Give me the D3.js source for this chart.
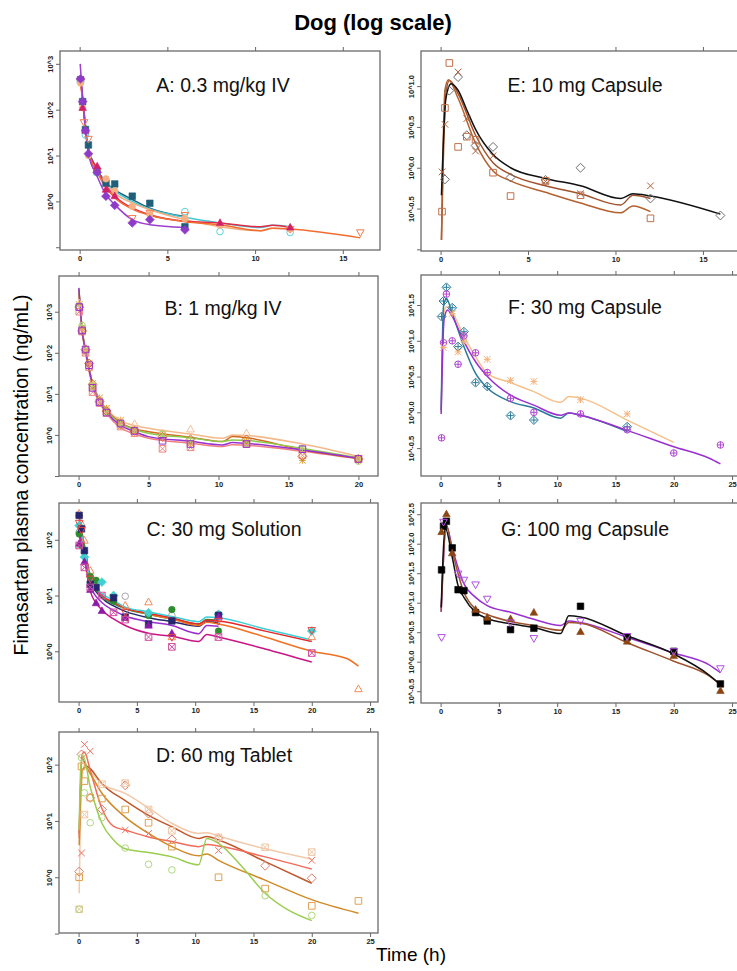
<!DOCTYPE html>
<html>
<head>
<meta charset="utf-8">
<script src="https://cdn.jsdelivr.net/npm/d3@7"></script>
<style>
  body { margin: 0; background: #fff; }
  svg { display: block; }
  text { font-family: "Liberation Sans", Arial, Helvetica, sans-serif; }
</style>
</head>
<body>
<svg id="chart" width="737" height="971"></svg>
<script>
// ---- observed concentrations, [time h, ng/mL] ----
// A: 0.3 mg/kg IV
var aSq      = [[0.05,450],[0.17,150],[0.33,37],[0.5,17],[1,4.5],[1.5,2.5],[2,2.4],[3,1.3],[4,0.91],[6,0.28]]
var aCirc    = [[0.05,420],[0.33,28],[1,4.2],[6,0.6],[8,0.22],[12,0.21]]
var aTriDown = [[0.05,400],[0.25,53],[0.5,23],[1,4.5],[3,0.43],[4,0.56],[6,0.5],[12,0.25],[16,0.21]]
var aPeach   = [[0.05,380],[0.17,110],[0.5,10],[1.5,3.1],[2,1.7],[3,0.78],[4,0.52],[6,0.42],[8,0.3],[12,0.25]]
var aTri     = [[0.17,110],[0.33,35],[1,5.8],[1.5,1.8],[2,1.3],[8,0.34],[12,0.27]]
var aDia     = [[0.05,470],[0.17,150],[0.33,35],[0.5,11],[1,4.3],[1.5,1.3],[2,0.82],[3,0.34],[4,0.4],[6,0.24]]
// A model curves
var aLineTeal   = [[0.05,500],[0.25,90],[0.5,15],[1,5],[1.5,2.6],[2,1.8],[3,1.1],[4,0.71],[6,0.47]]
var aLineCyan   = [[0.05,480],[0.25,85],[0.5,14],[1,4.8],[1.5,2.5],[2,1.7],[3,1.0],[4,0.68],[6,0.45],[8,0.34],[10.3,0.27],[11,0.3],[12,0.28]]
var aLinePeach  = [[0.05,450],[0.25,80],[0.5,13],[1,4.5],[1.5,2.3],[2,1.5],[3,0.92],[4,0.66],[6,0.4],[8,0.28],[10.3,0.23],[11,0.26],[12,0.25]]
var aLineRed    = [[0.05,450],[0.25,80],[0.5,13],[1,5.2],[1.5,2.2],[2,1.3],[3,0.72],[4,0.51],[6,0.37],[8,0.34],[10.3,0.28],[11,0.3],[12,0.27]]
var aLineOrange = [[0.05,420],[0.25,75],[0.5,12],[1,4.3],[1.5,2],[2,1.2],[3,0.68],[4,0.5],[6,0.36],[8,0.31],[10.3,0.23],[11,0.26],[12,0.25],[16,0.16]]
var aLinePurple = [[0.03,1000],[0.25,80],[0.5,11],[1,3.5],[1.5,1.4],[2,0.85],[3,0.4],[4,0.31],[6,0.27]]

// B: 1 mg/kg IV
var bStar   = [[0.05,1500],[0.25,380],[0.5,120],[0.75,55],[1,18],[1.5,8],[2,4.5],[3,2.3],[4,1.3],[6,1.0],[8,0.62],[12,0.7],[16,0.24],[20,0.26]]
var bTri    = [[0.05,1600],[0.25,400],[0.5,130],[1,16],[1.5,7],[2,4],[3,2.1],[4,1.85],[6,1.1],[8,1.37],[12,1.1],[16,0.45],[20,0.27]]
var bGreen  = [[0.05,1400],[0.25,460],[0.5,110],[1,15],[1.5,6.5],[2,3.7],[3,1.9],[4,1.3],[6,1.05],[8,0.7],[12,0.62],[16,0.45],[20,0.23]]
var bSalmon = [[0.05,1000],[0.25,330],[0.5,100],[0.75,45],[1,11],[1.5,6],[2,3.4],[3,1.6],[4,1.1],[6,0.46],[8,0.5],[12,0.6],[16,0.32],[20,0.26]]
var bDia    = [[0.05,1300],[0.25,340],[0.5,120],[0.75,55],[1,17],[1.5,6.5],[2,3.8],[3,1.8],[4,1.25],[6,0.9],[8,0.78],[12,0.78],[16,0.3],[20,0.26]]
var bSq     = [[0.05,1300],[0.25,350],[0.5,120],[0.75,50],[1,14],[1.5,6.2],[2,3.5],[3,1.9],[4,1.25],[6,0.72],[8,0.6],[12,0.6],[16,0.45],[20,0.26]]
var bLinePeach  = [[0.02,3400],[0.25,380],[0.5,120],[1,19],[1.5,7.5],[2,4.3],[3,2.2],[4,1.7],[5,1.45],[8,1.05],[10.3,0.83],[11,1.0],[12,0.97],[16,0.6],[20,0.3]]
var bLineSalmon = [[0.02,3000],[0.25,330],[0.5,100],[1,15],[1.5,6],[2,3.3],[3,1.5],[4,1.05],[5,0.83],[8,0.63],[10.3,0.52],[11,0.58],[12,0.56],[16,0.4],[20,0.26]]
var bLineOrange = [[0.02,3500],[0.25,370],[0.5,115],[1,18],[1.5,7],[2,4],[3,2],[4,1.4],[5,1.2],[8,0.88],[10.3,0.69],[11,0.91],[12,0.85],[16,0.43],[20,0.27]]
var bLineGreen  = [[0.02,3500],[0.25,380],[0.5,115],[1,18],[1.5,7],[2,3.9],[3,1.9],[4,1.35],[5,1.1],[8,0.85],[10.3,0.69],[11,0.75],[12,0.73],[16,0.47],[20,0.28]]
var bLinePurple = [[0.02,3800],[0.25,360],[0.5,110],[1,17],[1.5,6.5],[2,3.6],[3,1.7],[4,1.2],[5,0.91],[8,0.7],[10.3,0.57],[11,0.65],[12,0.62],[16,0.43],[20,0.27]]

// C: 30 mg Solution
var cTri     = [[0.05,295],[0.25,193],[0.5,97],[1,28],[4,6.6],[6,7.6],[8,1.8],[20,1.8],[24,0.21]]
var cCirc    = [[0.05,137],[0.5,60],[4,9.7],[8,4.4],[12,4.6]]
var cGreen   = [[0.05,127],[0.25,79],[1,22],[1.5,18.7],[3,7.9],[6,4.4],[8,5.6],[12,2.3]]
var cCyan    = [[0.05,180],[0.5,49],[2,17.4],[3,10],[6,4.9],[12,4.6],[20,2.3]]
var cNavy    = [[0.05,274],[0.25,157],[0.5,64],[1,16],[1.5,14],[3,9.1],[4,4.1],[6,3.1],[8,3.5],[12,4.4]]
var cPurple  = [[0.05,85],[0.5,40],[1,12.7],[1.5,7.3],[2,5.3],[4,4.0],[6,2.9],[8,2.1],[12,4.2]]
var cMagenta = [[0.05,79],[0.5,32],[1,14],[2,10],[3,5.0],[4,3.7],[6,1.8],[8,1.2],[12,1.8],[20,0.93]]
var cRed     = [[0.05,200],[0.25,150],[1,20],[4,5],[8,1.8],[12,3.5],[20,2.4]]
var cLineNavy    = [[0.05,260],[0.5,75],[1,19],[2,9],[3,6.5],[4,5.2],[6,4.0],[8,3.4],[10.3,2.8],[11,3.4],[12,3.3]]
var cLineGreen   = [[0.05,180],[0.5,70],[1,20],[2,9.5],[3,7.1],[4,5.8],[6,4.6],[8,3.8],[10.3,3.1],[11,3.7],[12,3.6]]
var cLinePurple  = [[0.05,150],[0.5,55],[1,15],[2,7.5],[3,5.4],[4,4.3],[6,3.4],[8,2.9],[10.3,2.07],[11,2.9],[12,2.8]]
var cLineMagenta = [[0.05,120],[0.5,45],[1,12],[2,5.5],[3,3.8],[4,2.9],[6,2.1],[8,1.86],[10.3,1.5],[11,2.0],[12,1.8],[16,1.1],[20,0.64]]
var cLineOrange  = [[0.05,240],[0.5,80],[1,22],[2,10],[3,7.5],[4,6.0],[6,4.6],[8,3.8],[10.3,2.9],[11,3.3],[12,3.1],[16,1.8],[20,1.0],[23,0.74],[24,0.54]]
var cLineRed     = [[0.05,220],[0.5,75],[1,21],[2,10],[3,7.6],[4,6.0],[6,4.8],[8,4.0],[10.3,3.1],[11,3.6],[12,3.5],[16,2.3],[20,1.5]]
var cLineCyan    = [[0.05,200],[0.5,70],[1,20],[2,10.8],[3,8.2],[4,6.2],[6,5.1],[8,4.2],[10.3,3.4],[11,4.1],[12,4.0],[16,2.5],[20,1.6]]

// D: 60 mg Tablet
var dX    = [[0.25,2.7],[0.5,229],[1,174],[4,6.9],[6,6.0],[12,3.0],[20,2.0]]
var dDia  = [[0.05,1.26],[0.25,152],[1,25.7],[2,16],[4,43],[6,13.5],[8,4.7],[12,4.9],[16,1.6],[20,0.96]]
var dSqX  = [[0.05,0.27],[0.5,13],[2,45],[4,47],[6,16],[8,6.7],[12,5.1],[16,3.4],[20,2.8]]
var dSq   = [[0.05,1.0],[0.25,93],[0.5,51],[1,26],[2,25],[4,16],[6,9.3],[8,3.5],[12,1.0],[16,0.63],[20,0.31],[24,0.38]]
var dCirc = [[0.05,0.27],[0.25,133],[0.5,31.6],[1,9.3],[2,11.5],[4,3.3],[6,1.7],[8,1.35],[16,0.47],[20,0.21]]
var dLinePeach  = [[0.05,0.52],[0.25,40],[0.5,100],[1,75],[2,46],[4,31],[6,17],[8,9.1],[10.3,6.0],[11,6.2],[12,5.4],[16,3.2],[20,2.1]]
var dLineBrown  = [[0.05,6],[0.3,130],[0.6,100],[1,85],[2,46],[4,23],[6,12.6],[8,7.9],[10.3,4.9],[11,5.3],[12,4.6],[16,1.9],[20,0.78]]
var dLineSalmon = [[0.05,5],[0.3,150],[0.5,167],[1,79],[2,16.6],[3,8],[4,6.9],[6,5.2],[8,4.3],[10.3,3.5],[11,3.8],[12,3.6],[16,2.3],[20,1.4]]
var dLineGold   = [[0.05,3.7],[0.3,80],[0.6,91],[1,69],[2,31],[4,11.7],[6,6.0],[8,3.5],[10.3,2.4],[11,2.6],[12,2.0],[16,0.89],[20,0.4],[24,0.23]]
var dLineGreen  = [[0.05,6.9],[0.2,100],[0.4,138],[1,40],[2,9.1],[3,4.6],[4,3.2],[6,2.75],[8,2.3],[10.3,1.66],[11,4.9],[12,4.0],[14,1.55],[16,0.52],[18,0.26],[20,0.17]]

// E: 10 mg Capsule
var eDia = [[0.25,0.72],[0.5,8.8],[1,12.9],[1.5,2.5],[2,1.87],[3,1.8],[4,0.76],[6,0.71],[8,1.0],[12,0.42],[16,0.26]]
var eX   = [[0.083,0.89],[0.25,3.4],[1,14.9],[1.5,4],[2,1.6],[3,1.4],[6,0.68],[8,0.48],[12,0.6]]
var eSq  = [[0.083,0.29],[0.25,5.4],[0.5,19.2],[1,1.8],[1.5,2.4],[2,2.2],[3,0.87],[4,0.45],[6,0.69],[8,0.46],[12,0.24]]
var eLineBlack  = [[0.05,0.46],[0.3,7],[0.6,10.7],[1,8.9],[1.5,5.1],[2,2.95],[3,1.45],[4,1.0],[6,0.74],[8,0.6],[10.3,0.42],[11,0.48],[12,0.45],[16,0.27]]
var eLineBrown1 = [[0.05,0.13],[0.3,8],[0.5,11.7],[1,8.1],[2,2.5],[3,1.15],[4,0.83],[6,0.6],[8,0.48],[10.3,0.35],[11,0.46],[12,0.42]]
var eLineBrown2 = [[0.05,0.13],[0.25,9],[0.45,12],[1,7.1],[2,2.0],[3,0.91],[4,0.69],[6,0.5],[8,0.37],[10.3,0.28],[11,0.34],[12,0.29]]

// F: 30 mg Capsule
var fDia  = [[0.083,21.8],[0.25,36],[0.5,56],[1,29],[1.5,8.3],[2,13.4],[3,2.6],[4,2.3],[6,0.9],[8,0.78],[16,0.63]]
var fCirc = [[0.083,0.44],[0.25,9.4],[0.5,45],[1,10],[1.5,4.7],[2,11.7],[3,6.8],[4,3.6],[6,1.57],[8,1.0],[12,0.95],[16,0.57],[20,0.27],[24,0.35]]
var fStar = [[0.25,8.1],[1,24],[1.5,7.0],[2,9.7],[4,5.5],[6,2.8],[8,2.7],[12,1.5],[16,0.95]]
var fLinePeach  = [[0.05,1.0],[0.3,25],[0.5,30],[1,25],[2,11.5],[3,6],[4,3.5],[6,2.6],[8,1.95],[10.3,1.38],[11,1.66],[12,1.58],[16,0.78],[20,0.38]]
var fLineTeal   = [[0.05,1.07],[0.25,30],[0.5,39],[1,24],[2,8.3],[3,3.5],[4,2.2],[6,1.41],[8,1.15],[10.3,0.83],[11,0.98],[12,0.91],[16,0.54]]
var fLinePurple = [[0.05,0.95],[0.3,20],[0.6,27],[1,22],[2,9.8],[3,5.1],[4,3.2],[6,1.74],[8,1.26],[10.3,0.91],[11,0.98],[12,0.91],[16,0.56],[20,0.33],[23,0.23],[24,0.19]]

// G: 100 mg Capsule
var gSq      = [[0.083,36],[0.25,198],[0.5,240],[1,85],[1.5,16.6],[2,16],[3,6.8],[4,4.9],[6,3.5],[8,3.7],[12,8.7],[16,2.6],[20,1.5],[24,0.42]]
var gTri     = [[0.083,158],[0.5,316],[1,69],[3,7.6],[4,5.6],[6,5.3],[8,6.8],[12,3.2],[16,2.2],[20,1.25],[24,0.32]]
var gTriDown = [[0.083,2.6],[0.25,234],[1.5,31],[2,24.4],[3,20.3],[4,11.6],[6,4.6],[8,2.5],[12,4.9],[16,2.7],[20,1.5],[24,0.77]]
var gLinePurple = [[0.05,7],[0.5,204],[1,85],[2,21],[3,12.3],[4,8.9],[6,6.9],[8,5.25],[10.3,4.1],[11,4.9],[12,4.6],[16,2.6],[20,1.4],[23,0.89],[24,0.65]]
var gLineBrown  = [[0.05,7],[0.5,204],[1,76],[2,15],[3,7.8],[4,6.3],[6,4.8],[8,4.1],[10.3,3.4],[11,4.6],[12,4.5],[16,2.1],[20,1.02],[23,0.58],[24,0.41]]
var gLineBlack  = [[0.05,8.3],[0.4,182],[1,59],[1.5,19.5],[2,12.3],[3,6.9],[4,5.4],[6,4.4],[8,3.8],[10.3,3.0],[11,6.0],[12,5.75],[16,2.75],[20,1.35],[23,0.6],[24,0.41]]

// ---- panel layout ----
var panels = [
  {title: 'A: 0.3 mg/kg IV', box: [60, 51, 320, 199], xlim: [-1.12, 17.12], ylim: [-1.06, 3.28], xt: [0,5,10,15], yt: [-1,0,1,2,3], dec: 0, tdx: 163, tdy: 41,
   lines: [[aLineTeal,'#1f5f7a'],[aLineCyan,'#45c8d2'],[aLinePeach,'#f3ad7e'],[aLineRed,'#e02a4a'],[aLineOrange,'#f26b2f'],[aLinePurple,'#9a3fd0']],
   pts: [[aSq,'squareF','#1f5f7a'],[aCirc,'circle','#5ad2dc'],[aTriDown,'triDown','#f47a50'],[aPeach,'circleF','#f5b183'],[aTri,'triF','#d1206a'],[aDia,'diamondF','#8e3bc8']]},
  {title: 'B: 1 mg/kg IV', box: [59, 276, 319, 200], xlim: [-1.4, 21.4], ylim: [-1.0, 3.87], xt: [0,5,10,15,20], yt: [-1,0,1,2,3], dec: 0, tdx: 164, tdy: 39,
   lines: [[bLinePeach,'#f5b88a'],[bLineSalmon,'#f08080'],[bLineOrange,'#d2691e'],[bLineGreen,'#8cc84b'],[bLinePurple,'#9a30d0']],
   pts: [[bStar,'star','#e0a030'],[bTri,'tri','#f5c09a'],[bGreen,'circlePlus','#a8d070'],[bSalmon,'squareX','#f08a80'],[bDia,'diamond','#d0703a'],[bSq,'square','#9932cc']]},
  {title: 'C: 30 mg Solution', box: [59, 503, 319, 199], xlim: [-1.68, 25.68], ylim: [-0.91, 2.66], xt: [0,5,10,15,20,25], yt: [0,1,2], dec: 0, tdx: 165, tdy: 33,
   lines: [[cLineNavy,'#26266e'],[cLineGreen,'#2e8b2e'],[cLinePurple,'#9b30d0'],[cLineMagenta,'#c71585'],[cLineOrange,'#f07020'],[cLineRed,'#e8262c'],[cLineCyan,'#3dcfd6']],
   pts: [[cTri,'tri','#f58a5a'],[cCirc,'circle','#a8a8a8'],[cGreen,'circleF','#2e8b2e'],[cCyan,'diamondF','#40d0d0'],[cNavy,'squareF','#26266e'],[cPurple,'triF','#8b1aa8'],[cMagenta,'squareX','#d050a0'],[cRed,'triDown','#e84848']]},
  {title: 'D: 60 mg Tablet', box: [59, 732, 319, 201], xlim: [-1.68, 25.68], ylim: [-0.99, 2.58], xt: [0,5,10,15,20,25], yt: [-1,0,1,2], dec: 0, tdx: 165, tdy: 30,
   lines: [[dLinePeach,'#f2c9a9'],[dLineBrown,'#c0582c'],[dLineSalmon,'#f26b5b'],[dLineGold,'#d08a28'],[dLineGreen,'#9acd50']],
   pts: [[dX,'x','#f07060'],[dDia,'diamond','#d9806a'],[dSqX,'squareX','#f0c8a8'],[dSq,'square','#e0a050'],[dCirc,'circle','#b0d880']]},
  {title: 'E: 10 mg Capsule', box: [421, 51, 319, 200], xlim: [-1.12, 17.12], ylim: [-1.02, 1.43], xt: [0,5,10,15], yt: [-1,-0.5,0,0.5,1], dec: 1, tdx: 164, tdy: 41,
   lines: [[eLineBrown1,'#a0522d'],[eLineBrown2,'#b5602f'],[eLineBlack,'#111111']],
   pts: [[eDia,'diamond','#6e6e6e'],[eX,'x','#b0603a'],[eSq,'square','#c0704a']]},
  {title: 'F: 30 mg Capsule', box: [421, 275, 319, 201], xlim: [-1.68, 25.68], ylim: [-0.89, 1.92], xt: [0,5,10,15,20,25], yt: [-0.5,0,0.5,1,1.5], dec: 1, tdx: 164, tdy: 39,
   lines: [[fLinePeach,'#f5c08a'],[fLineTeal,'#2a7a9a'],[fLinePurple,'#9a30d0']],
   pts: [[fDia,'diamondPlus','#2a7a9a'],[fCirc,'circlePlus','#b048d0'],[fStar,'star','#f5b07a']]},
  {title: 'G: 100 mg Capsule', box: [421, 503, 319, 200], xlim: [-1.68, 25.68], ylim: [-0.70, 2.69], xt: [0,5,10,15,20,25], yt: [-0.5,0,0.5,1,1.5,2,2.5], dec: 1, tdx: 164, tdy: 33,
   lines: [[gLinePurple,'#9a30d0'],[gLineBrown,'#a0522d'],[gLineBlack,'#111111']],
   pts: [[gSq,'squareF','#000000'],[gTri,'triF','#8b4513'],[gTriDown,'triDown','#b050e0']]}
]

var svg = d3.select('#chart')
svg.append('rect').attr('width', 737).attr('height', 971).attr('fill', '#fff')

function drawSym(g, type, x, y, col) {
  var r = 3.3
  function path(d, filled) {
    var p = g.append('path').attr('d', d)
    if (filled) p.attr('fill', col).attr('stroke', col).attr('stroke-width', 0.6)
    else p.attr('fill', 'none').attr('stroke', col).attr('stroke-width', 1)
    return p
  }
  var cross = 'M' + (x-r) + ',' + (y-r) + 'L' + (x+r) + ',' + (y+r) + 'M' + (x+r) + ',' + (y-r) + 'L' + (x-r) + ',' + (y+r)
  var plus = 'M' + (x-r) + ',' + y + 'L' + (x+r) + ',' + y + 'M' + x + ',' + (y-r) + 'L' + x + ',' + (y+r)
  var sq = 'M' + (x-r) + ',' + (y-r) + 'h' + 2*r + 'v' + 2*r + 'h' + (-2*r) + 'Z'
  var tri = 'M' + x + ',' + (y-r*1.25) + 'L' + (x+r*1.15) + ',' + (y+r*0.8) + 'L' + (x-r*1.15) + ',' + (y+r*0.8) + 'Z'
  var triD = 'M' + x + ',' + (y+r*1.25) + 'L' + (x+r*1.15) + ',' + (y-r*0.8) + 'L' + (x-r*1.15) + ',' + (y-r*0.8) + 'Z'
  var d = r * 1.35
  var dia = 'M' + x + ',' + (y-d) + 'L' + (x+d) + ',' + y + 'L' + x + ',' + (y+d) + 'L' + (x-d) + ',' + y + 'Z'
  var circ = d3.path(); circ.arc(x, y, r, 0, 2 * Math.PI)
  switch (type) {
    case 'circle': path(circ.toString(), false); break
    case 'circleF': path(circ.toString(), true); break
    case 'circlePlus': path(circ.toString(), false); path(plus, false); break
    case 'square': path(sq, false); break
    case 'squareF': path(sq, true); break
    case 'squareX': path(sq, false); path(cross, false); break
    case 'tri': path(tri, false); break
    case 'triF': path(tri, true); break
    case 'triDown': path(triD, false); break
    case 'diamond': path(dia, false); break
    case 'diamondF': path(dia, true); break
    case 'diamondPlus': path(dia, false); path(plus, false); break
    case 'x': path(cross, false); break
    case 'star': path(cross + plus, false); break
  }
}

panels.forEach(function(p, i) {
  var bx = p.box[0], by = p.box[1], bw = p.box[2], bh = p.box[3]
  var x = d3.scaleLinear().domain(p.xlim).range([bx, bx + bw])
  var y = d3.scaleLog().domain([Math.pow(10, p.ylim[0]), Math.pow(10, p.ylim[1])]).range([by + bh, by])
  var g = svg.append('g')

  var clipId = 'clip' + i
  svg.append('clipPath').attr('id', clipId).append('rect')
    .attr('x', bx).attr('y', by).attr('width', bw).attr('height', bh)

  // axes
  var bottom = g.append('g').attr('transform', 'translate(0,' + (by + bh) + ')')
    .call(d3.axisBottom(x).tickValues(p.xt).tickSize(4).tickPadding(2).tickFormat(d3.format('d')))
  var top = g.append('g').attr('transform', 'translate(0,' + by + ')')
    .call(d3.axisTop(x).tickValues(p.xt).tickSize(4).tickFormat(''))
  var yv = p.yt.map(function(v) { return Math.pow(10, v) })
  var left = g.append('g').attr('transform', 'translate(' + bx + ',0)')
    .call(d3.axisLeft(y).tickValues(yv).tickSize(4).tickFormat(function(v) {
      var py = y(v)
      if (py > by + bh - 8 || py < by + 8) return ''
      var e = Math.log10(v)
      return '10^' + (p.dec ? e.toFixed(1) : Math.round(e))
    }))
  ;[bottom, top, left].forEach(function(a) {
    a.select('.domain').remove()
    a.selectAll('.tick line').attr('stroke', '#666').attr('stroke-width', 1)
    a.selectAll('.tick text').attr('fill', '#222').style('font-size', '7.5px').style('font-weight', 'bold')
  })
  left.selectAll('.tick text')
    .attr('x', 0).attr('dy', '0.35em').attr('y', 0)
    .attr('text-anchor', 'middle')
    .attr('transform', 'translate(-9.5,0) rotate(-90)')

  // model curves
  var line = d3.line()
    .x(function(d) { return x(d[0]) })
    .y(function(d) { return y(d[1]) })
    .curve(d3.curveMonotoneX)
  var plot = g.append('g').attr('clip-path', 'url(#' + clipId + ')')
  p.lines.forEach(function(l) {
    plot.append('path').datum(l[0]).attr('d', line)
      .attr('fill', 'none').attr('stroke', l[1]).attr('stroke-width', 1.5)
  })
  // observations
  p.pts.forEach(function(s) {
    s[0].forEach(function(d) { drawSym(plot, s[1], x(d[0]), y(d[1]), s[2]) })
  })

  // frame
  g.append('rect').attr('x', bx).attr('y', by).attr('width', bw).attr('height', bh)
    .attr('fill', 'none').attr('stroke', '#6a6a6a').attr('stroke-width', 1.3)

  g.append('text').attr('x', bx + p.tdx).attr('y', by + p.tdy)
    .attr('text-anchor', 'middle').style('font-size', '19.5px').attr('fill', '#111')
    .text(p.title)
})

svg.append('text').attr('x', 373).attr('y', 30).attr('text-anchor', 'middle')
  .style('font-size', '22px').style('font-weight', 'bold').text('Dog (log scale)')
svg.append('text').attr('transform', 'translate(28,475) rotate(-90)').attr('text-anchor', 'middle')
  .style('font-size', '19.5px').text('Fimasartan plasma concentration (ng/mL)')
svg.append('text').attr('x', 411).attr('y', 961).attr('text-anchor', 'middle')
  .style('font-size', '19px').text('Time (h)')
</script>
</body>
</html>
